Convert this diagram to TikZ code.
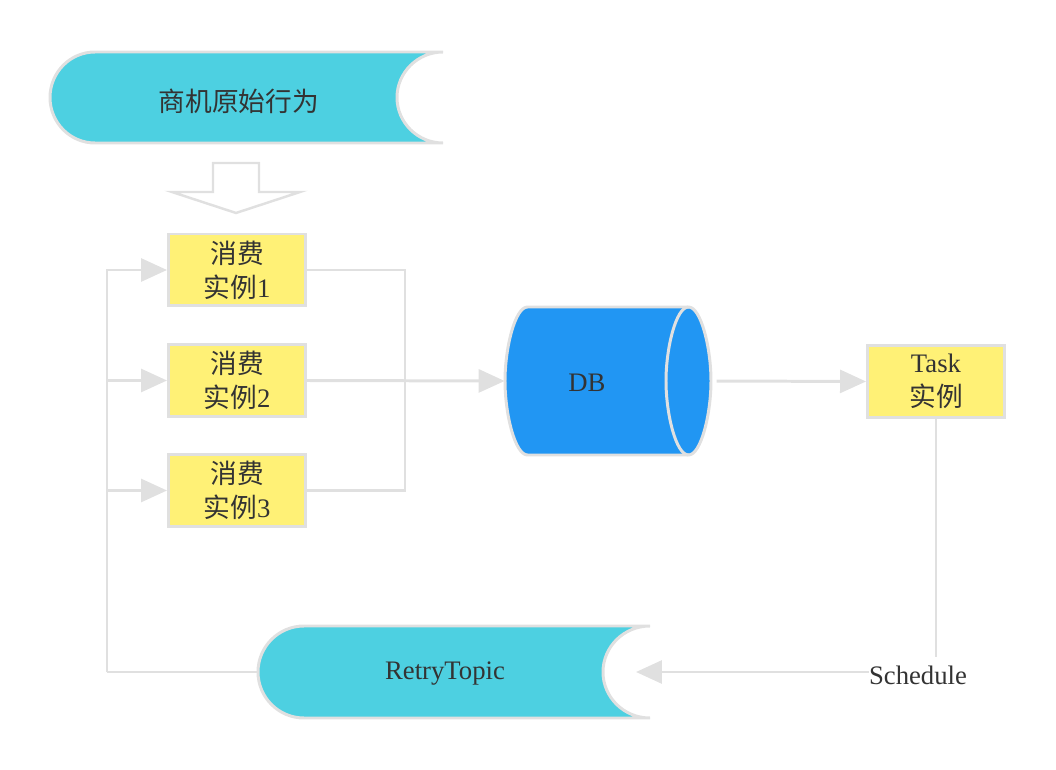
\documentclass[tikz,border=0pt]{standalone}
\usepackage{fontspec}
\setmainfont{Liberation Serif}
\newfontfamily\cjk{Noto Sans CJK SC}
\usetikzlibrary{arrows.meta,calc}
\definecolor{edgegray}{HTML}{E0E0E0}
\definecolor{topiccyan}{HTML}{4DD0E1}
\definecolor{workyellow}{HTML}{FFF176}
\definecolor{dbblue}{HTML}{2196F3}
\definecolor{inkgray}{HTML}{333333}

\tikzset{
  line/.style={draw=edgegray, line width=1.7pt},
  arr/.style={line, -{Triangle[length=0.52cm,width=0.46cm]}},
  worker/.style={draw=edgegray, line width=1.7pt, fill=workyellow, text=inkgray,
    minimum width=2.74cm, minimum height=1.44cm, inner sep=0pt, align=center},
  txt/.style={text=inkgray, inner sep=1pt, align=center},
}

\begin{document}
\begin{tikzpicture}[x=0.02cm, y=-0.02cm, font=\fontsize{15.2pt}{19.5pt}\selectfont]
    \useasboundingbox (0,0) rectangle (1056,770);

    % source topic, concave at the right
    \path[line, fill=topiccyan] (443,52) -- (95,52)
        .. controls (70,52) and (50,72.5) .. (50,97.5)
        .. controls (50,122.5) and (70,143) .. (95,143) -- (443,143)
        .. controls (417.6,143) and (397,122.5) .. (397,97.5)
        .. controls (397,72.5) and (417.6,52) .. (443,52) -- cycle;
    \node[txt] (source) at (239,101) {\cjk 商机原始行为};

    % hollow arrow down
    \draw[line, fill=white, line width=1.4pt] (213,163) -- (259,163) -- (259,192)
        -- (300,192) -- (236,213) -- (172,192) -- (213,192) -- cycle;

    % consumers
    \node[worker] (c1) at (237,270) {{\cjk 消费}\\{\cjk 实例}1};
    \node[worker] (c2) at (237,380.5) {{\cjk 消费}\\{\cjk 实例}2};
    \node[worker] (c3) at (237,490.5) {{\cjk 消费}\\{\cjk 实例}3};

    % database, lying cylinder
    \path[line, fill=dbblue] (527.5,307) -- (688.5,307)
        .. controls (701,307) and (711,348) .. (711,381)
        .. controls (711,414) and (701,455) .. (688.5,455) -- (527.5,455)
        .. controls (515,455) and (505,414) .. (505,381)
        .. controls (505,348) and (515,307) .. (527.5,307) -- cycle;
    \draw[line] (688.5,455) .. controls (676,455) and (666,414) .. (666,381)
        .. controls (666,348) and (676,307) .. (688.5,307);
    \node[inner sep=0pt, minimum width=4.12cm, minimum height=2.96cm] (db) at (608,381) {};
    \node[txt] (dbname) at (587,383) {DB};

    % task
    \node[worker] (task) at (936,381.5) {Task\\{\cjk 实例}};

    % retry topic
    \path[line, fill=topiccyan] (650,626) -- (304,626)
        .. controls (278.6,626) and (258,646.6) .. (258,672)
        .. controls (258,697.4) and (278.6,718) .. (304,718) -- (650,718)
        .. controls (624,718) and (603,697.4) .. (603,672)
        .. controls (603,646.6) and (624,626) .. (650,626) -- cycle;
    \node[txt] (retry) at (445,674) {RetryTopic};
    \coordinate (retryout) at (258,672);
    \coordinate (retryin) at (636,672);

    \node[txt, inner sep=0pt] (sched) at (918,675) {Schedule};

    % retry loop back to the consumers
    \coordinate (back) at (107,672);
    \draw[line] (retryout) -- (back);
    \draw[arr] (back) |- (c1.west);
    \draw[arr] (back) |- (c2.west);
    \draw[arr] (back) |- (c3.west);

    % consumers into db
    \coordinate (merge) at (405,380.5);
    \draw[line] (c1.east) -| (merge) |- (c3.east);
    \draw[arr] (c2.east) -- (db.west);
    \draw[arr, shorten <=3pt] (db.east) -- (task.west);

    % schedule
    \draw[line, line width=1.3pt] (task.south) -- ($(task.south |- sched.north)+(0,-8)$);
    \draw[arr] (sched.west |- retryin) -- (retryin);

\end{tikzpicture}
\end{document}
